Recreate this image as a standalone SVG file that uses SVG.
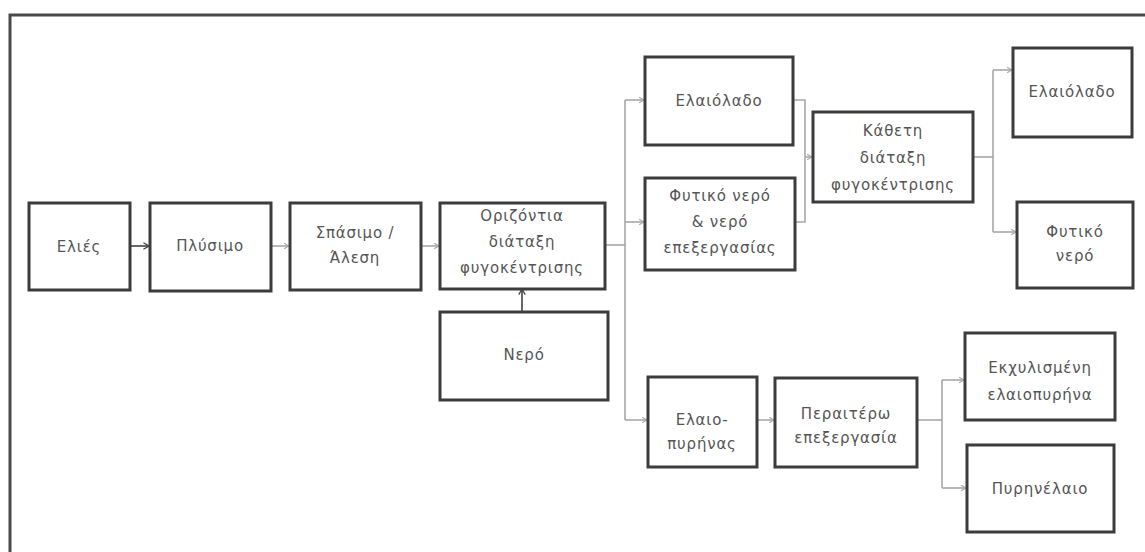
<svg xmlns="http://www.w3.org/2000/svg" width="1145" height="552" viewBox="0 0 1145 552">
<style>
.box{fill:#fff;stroke:#3c3c3c;stroke-width:3}
.t{font-family:"DejaVu Sans","Noto Sans",sans-serif;font-size:15px;fill:#555;text-anchor:middle;dominant-baseline:central;letter-spacing:0.8px}
.c{fill:none;stroke:#a8a8a8;stroke-width:1.6}
.cd{fill:none;stroke:#444;stroke-width:1.6}
.frame{fill:none;stroke:#4a4a4a;stroke-width:3}
</style>
<defs>
<marker id="ah" viewBox="0 0 10 10" refX="9" refY="5" markerWidth="7" markerHeight="7" markerUnits="userSpaceOnUse" orient="auto"><path d="M2,1 L9,5 L2,9" fill="none" stroke="#a8a8a8" stroke-width="1.6"/></marker>
<marker id="ahd" viewBox="0 0 10 10" refX="9" refY="5" markerWidth="8" markerHeight="8" markerUnits="userSpaceOnUse" orient="auto"><path d="M2,1 L9,5 L2,9" fill="none" stroke="#444" stroke-width="1.6"/></marker>
</defs>
<rect width="1145" height="552" fill="#fff"/>
<path class="frame" d="M10,552 V15 H1145"/>
<g id="connectors">
<path class="cd" d="M130,246 H149" marker-end="url(#ahd)"/>
<path class="c" d="M271,246 H289" marker-end="url(#ah)"/>
<path class="c" d="M421,246 H439" marker-end="url(#ah)"/>
<path class="cd" d="M522,312 V289" marker-end="url(#ahd)"/>
<path class="c" d="M605,245 H625"/>
<path class="c" d="M625,100 V420"/>
<path class="c" d="M625,100 H644" marker-end="url(#ah)"/>
<path class="c" d="M625,222 H644" marker-end="url(#ah)"/>
<path class="c" d="M625,420 H647" marker-end="url(#ah)"/>
<path class="c" d="M793,100 H805 V222 H795"/>
<path class="c" d="M805,157 H812" marker-end="url(#ah)"/>
<path class="c" d="M973,157 H993"/>
<path class="c" d="M993,70 V232"/>
<path class="c" d="M993,70 H1012" marker-end="url(#ah)"/>
<path class="c" d="M993,232 H1016" marker-end="url(#ah)"/>
<path class="c" d="M757,420 H774" marker-end="url(#ah)"/>
<path class="c" d="M917,420 H942"/>
<path class="c" d="M942,380 V488"/>
<path class="c" d="M942,380 H964" marker-end="url(#ah)"/>
<path class="c" d="M942,488 H966" marker-end="url(#ah)"/>
</g>
<g id="n-elies"><rect class="box" x="29" y="203" width="101" height="87"/><text class="t" x="79" y="247">Ελιές</text></g>
<g id="n-plysimo"><rect class="box" x="150" y="203" width="121" height="88"/><text class="t" x="210" y="246">Πλύσιμο</text></g>
<g id="n-spasimo"><rect class="box" x="290" y="203" width="131" height="87"/><text class="t" x="355" y="233">Σπάσιμο /</text><text class="t" x="355" y="258">Άλεση</text></g>
<g id="n-orizontia"><rect class="box" x="440" y="203" width="165" height="86"/><text class="t" x="522" y="216">Οριζόντια</text><text class="t" x="522" y="242">διάταξη</text><text class="t" x="522" y="268">φυγοκέντρισης</text></g>
<g id="n-nero"><rect class="box" x="440" y="312" width="168" height="88"/><text class="t" x="524" y="355">Νερό</text></g>
<g id="n-elaiolado1"><rect class="box" x="645" y="57" width="148" height="88"/><text class="t" x="719" y="101">Ελαιόλαδο</text></g>
<g id="n-fytiko1"><rect class="box" x="645" y="178" width="150" height="92"/><text class="t" x="720" y="196">Φυτικό νερό</text><text class="t" x="720" y="222">&amp; νερό</text><text class="t" x="720" y="248">επεξεργασίας</text></g>
<g id="n-katheti"><rect class="box" x="813" y="112" width="160" height="90"/><text class="t" x="893" y="131">Κάθετη</text><text class="t" x="893" y="158">διάταξη</text><text class="t" x="893" y="185">φυγοκέντρισης</text></g>
<g id="n-elaiolado2"><rect class="box" x="1013" y="48" width="119" height="89"/><text class="t" x="1072" y="92">Ελαιόλαδο</text></g>
<g id="n-fytiko2"><rect class="box" x="1017" y="202" width="116" height="86"/><text class="t" x="1075" y="232">Φυτικό</text><text class="t" x="1075" y="256">νερό</text></g>
<g id="n-elaiopyrinas"><rect class="box" x="648" y="377" width="109" height="90"/><text class="t" x="702" y="420">Ελαιο-</text><text class="t" x="702" y="444">πυρήνας</text></g>
<g id="n-peraitero"><rect class="box" x="775" y="378" width="142" height="89"/><text class="t" x="846" y="414">Περαιτέρω</text><text class="t" x="846" y="438">επεξεργασία</text></g>
<g id="n-ekxylismeni"><rect class="box" x="965" y="333" width="150" height="87"/><text class="t" x="1040" y="368">Εκχυλισμένη</text><text class="t" x="1040" y="395">ελαιοπυρήνα</text></g>
<g id="n-pyrinelaio"><rect class="box" x="967" y="445" width="147" height="87"/><text class="t" x="1040" y="489">Πυρηνέλαιο</text></g>
</svg>
